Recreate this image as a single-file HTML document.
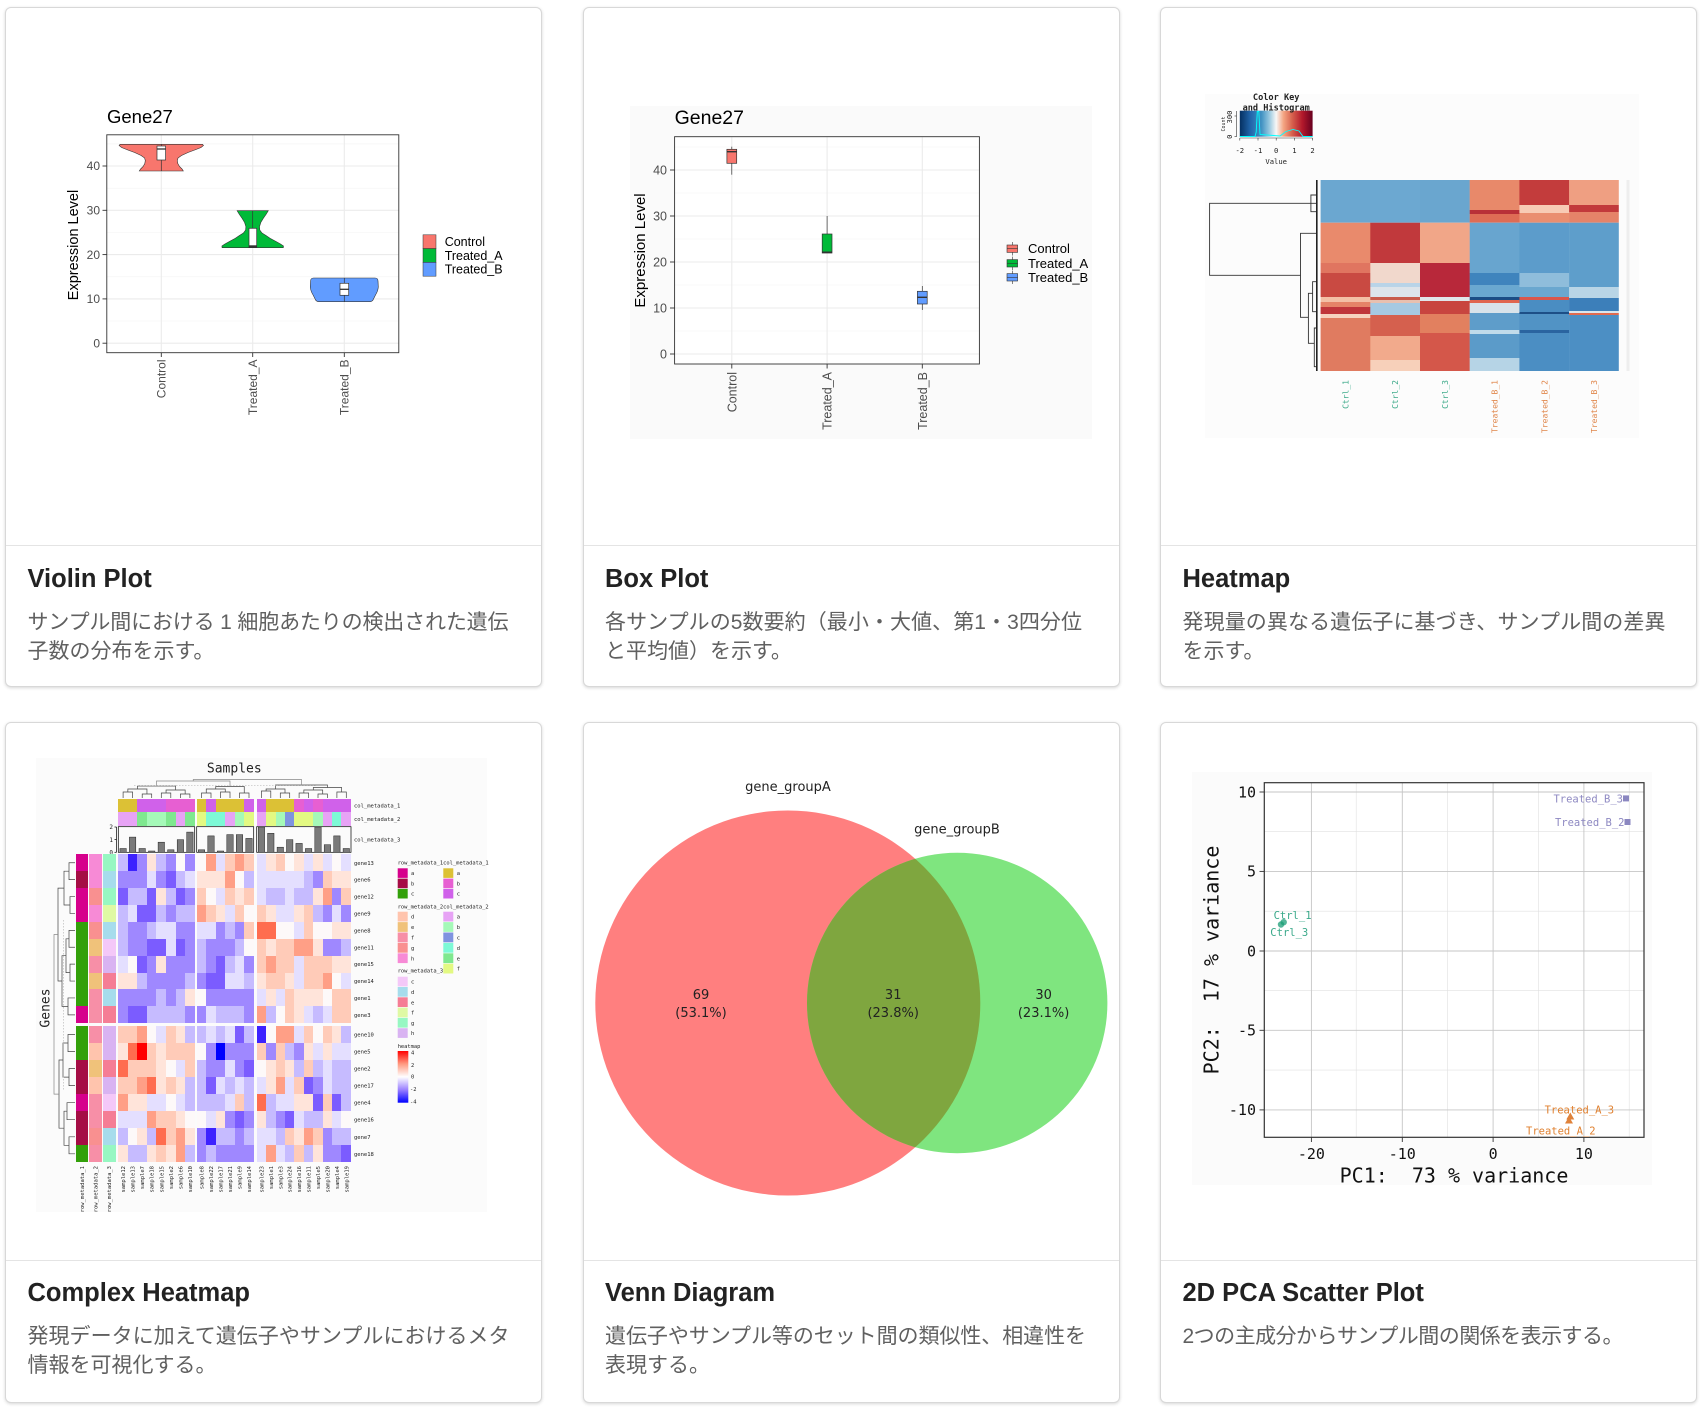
<!DOCTYPE html>
<html><head><meta charset="utf-8">
<style>
html,body{margin:0;padding:0;background:#fff;}
body{width:1701px;height:1424px;position:relative;overflow:hidden;}
.card{position:absolute;background:#fff;border:1px solid #d8d8d8;border-radius:6px;box-shadow:0 1px 3px rgba(0,0,0,.16);box-sizing:border-box;}
.dv{position:absolute;left:0;right:0;height:1px;background:#e4e4e4;}
svg.main{position:absolute;left:0;top:0;}
.g{position:absolute;display:grid;}
.g i{display:block;}
.Z{background:#3d22ff}.K{background:#0000ff}.A{background:#7b5cff}.B{background:#9f88ff}.C{background:#c6bbff}.D{background:#e4dfff}.W{background:#fdf9f9}.E{background:#ffe4da}.F{background:#ffcbb8}.G{background:#ff9f86}.H{background:#ff6d4f}.R{background:#ff0000}
.p{background:#d6008c}.q{background:#a50d45}.s{background:#33a00a}
.d2{background:#ffc4ad}.e2{background:#f0c27a}.f2{background:#f78fa7}.g2{background:#f99090}.h2{background:#f78ad6}
.c3{background:#f4c8f8}.d3{background:#a6dcec}.e3{background:#f57d95}.f3{background:#dff9a4}.g3{background:#97f7c2}.h3{background:#d9b3f2}
.a1{background:#dcc135}.b1{background:#e75fd2}.c1{background:#d061ea}
.a4{background:#e7a3f5}.b4{background:#a5f9b8}.c4{background:#7f93e0}.d4{background:#7df9d6}.e4{background:#7fe88f}.f4{background:#e3f982}
</style></head><body>

<div class="card" style="left:5px;top:7px;width:537px;height:680px"><div class="dv" style="top:537px"></div></div>
<div class="card" style="left:583px;top:7px;width:537px;height:680px"><div class="dv" style="top:537px"></div></div>
<div class="card" style="left:1160px;top:7px;width:537px;height:680px"><div class="dv" style="top:537px"></div></div>
<div class="card" style="left:5px;top:722px;width:537px;height:681px"><div class="dv" style="top:537px"></div></div>
<div class="card" style="left:583px;top:722px;width:537px;height:681px"><div class="dv" style="top:537px"></div></div>
<div class="card" style="left:1160px;top:722px;width:537px;height:681px"><div class="dv" style="top:537px"></div></div>

<svg class="main" width="1701" height="1424" viewBox="0 0 1701 1424" xmlns="http://www.w3.org/2000/svg">
<defs>
<linearGradient id="ck" x1="0" y1="0" x2="1" y2="0">
<stop offset="0" stop-color="#053061"/><stop offset="0.15" stop-color="#2166ac"/><stop offset="0.3" stop-color="#4393c3"/><stop offset="0.4" stop-color="#92c5de"/><stop offset="0.5" stop-color="#f7f7f7"/><stop offset="0.6" stop-color="#f4a582"/><stop offset="0.72" stop-color="#d6604d"/><stop offset="0.86" stop-color="#b2182b"/><stop offset="1" stop-color="#67001f"/>
</linearGradient>
<linearGradient id="hm" x1="0" y1="0" x2="0" y2="1">
<stop offset="0" stop-color="#ff0000"/><stop offset="0.25" stop-color="#ff9a80"/><stop offset="0.5" stop-color="#ffffff"/><stop offset="0.75" stop-color="#9a80ff"/><stop offset="1" stop-color="#0000ff"/>
</linearGradient>
<clipPath id="clipA"><circle cx="787.8" cy="1003" r="192.5"/></clipPath>
</defs>

<!-- Card titles & descriptions -->
<g font-family="'Liberation Sans',sans-serif" font-weight="bold" font-size="25.5" fill="#222">
<text x="27.5" y="587">Violin Plot</text>
<text x="605" y="587">Box Plot</text>
<text x="1182.5" y="587">Heatmap</text>
<text x="27.5" y="1301">Complex Heatmap</text>
<text x="605" y="1301">Venn Diagram</text>
<text x="1182.5" y="1301">2D PCA Scatter Plot</text>
</g>
<g font-family="'Liberation Sans','Noto Sans CJK JP',sans-serif" font-size="21" fill="#606060">
<text x="27.5" y="629" textLength="481" lengthAdjust="spacing">サンプル間における 1 細胞あたりの検出された遺伝</text>
<text x="27.5" y="658">子数の分布を示す。</text>
<text x="605" y="629" textLength="477" lengthAdjust="spacing">各サンプルの5数要約（最小・大値、第1・3四分位</text>
<text x="605" y="658">と平均値）を示す。</text>
<text x="1182.5" y="629" textLength="483" lengthAdjust="spacing">発現量の異なる遺伝子に基づき、サンプル間の差異</text>
<text x="1182.5" y="658">を示す。</text>
<text x="27.5" y="1343" textLength="482" lengthAdjust="spacing">発現データに加えて遺伝子やサンプルにおけるメタ</text>
<text x="27.5" y="1372">情報を可視化する。</text>
<text x="605" y="1343" textLength="481" lengthAdjust="spacing">遺伝子やサンプル等のセット間の類似性、相違性を</text>
<text x="605" y="1372">表現する。</text>
<text x="1182.5" y="1343" textLength="441" lengthAdjust="spacing">2つの主成分からサンプル間の関係を表示する。</text>
</g>

<!-- ============ VIOLIN PLOT ============ -->
<g font-family="'Liberation Sans',sans-serif">
<rect x="106.8" y="134.8" width="292" height="217.9" fill="#fff"/>
<g stroke="#f3f3f3" stroke-width="0.6">
<line x1="106.8" x2="398.8" y1="321" y2="321"/><line x1="106.8" x2="398.8" y1="276.8" y2="276.8"/><line x1="106.8" x2="398.8" y1="232.5" y2="232.5"/><line x1="106.8" x2="398.8" y1="188.2" y2="188.2"/><line x1="106.8" x2="398.8" y1="143.9" y2="143.9"/>
</g>
<g stroke="#ebebeb" stroke-width="1.1">
<line x1="106.8" x2="398.8" y1="343.2" y2="343.2"/><line x1="106.8" x2="398.8" y1="298.9" y2="298.9"/><line x1="106.8" x2="398.8" y1="254.6" y2="254.6"/><line x1="106.8" x2="398.8" y1="210.3" y2="210.3"/><line x1="106.8" x2="398.8" y1="166" y2="166"/>
<line x1="161.3" x2="161.3" y1="134.8" y2="352.7"/><line x1="252.7" x2="252.7" y1="134.8" y2="352.7"/><line x1="344.3" x2="344.3" y1="134.8" y2="352.7"/>
</g>
<!-- violins -->
<polygon fill="#F8766D" stroke="#333" stroke-width="0.6" points="202.5,144.3 203.5,145.5 201,147.5 196,149.5 188,152.5 181.5,155.5 178,158 177.3,160.5 177.8,163.5 179.5,166.5 182,169 183.3,171 139.3,171 140.6,169 143.1,166.5 144.8,163.5 145.3,160.5 144.6,158 141.1,155.5 134.6,152.5 126.6,149.5 121.6,147.5 119.1,145.5 120.1,144.3"/>
<polygon fill="#00BA38" stroke="#333" stroke-width="0.6" points="268.3,210.7 266,214.5 263.3,218.3 260.8,222.5 259.5,226.7 259.8,230 262,233 266,235.5 270,238.3 276,241.5 280.5,244 283.5,246 283.3,247.7 222.1,247.7 221.9,246 224.9,244 229.4,241.5 235.4,238.3 239.4,235.5 243.4,233 245.6,230 245.9,226.7 244.6,222.5 242.1,218.3 239.4,214.5 237.1,210.7"/>
<path fill="#619CFF" stroke="#333" stroke-width="0.6" d="M375,278 Q378,278 378,281 L378.3,287 Q378,291 375.5,295 L373.5,299 Q372.5,301.7 369.5,301.7 L319.1,301.7 Q316.1,301.7 315.1,299 L313.1,295 Q310.6,291 310.3,287 L310.6,281 Q310.6,278 313.6,278 Z"/>
<!-- inner boxes -->
<g stroke="#333" stroke-width="0.7">
<line x1="161.3" x2="161.3" y1="144.3" y2="171"/>
<rect x="157" y="146" width="8.6" height="14" fill="#fff"/>
<line x1="157" x2="165.6" y1="149" y2="149" stroke-width="1.3"/>
<line x1="252.7" x2="252.7" y1="210.7" y2="247.7"/>
<rect x="249" y="228.3" width="7.7" height="19" fill="#fff"/>
<line x1="249" x2="256.7" y1="246.3" y2="246.3" stroke-width="2"/>
<line x1="344.3" x2="344.3" y1="278" y2="301.7"/>
<rect x="340" y="283.3" width="8.7" height="12" fill="#fff"/>
<line x1="340" x2="348.7" y1="289.3" y2="289.3" stroke-width="1.3"/>
</g>
<rect x="106.8" y="134.8" width="292" height="217.9" fill="none" stroke="#333" stroke-width="0.9"/>
<g stroke="#333" stroke-width="0.9">
<line x1="102.5" x2="106.8" y1="343.2" y2="343.2"/><line x1="102.5" x2="106.8" y1="298.9" y2="298.9"/><line x1="102.5" x2="106.8" y1="254.6" y2="254.6"/><line x1="102.5" x2="106.8" y1="210.3" y2="210.3"/><line x1="102.5" x2="106.8" y1="166" y2="166"/>
<line x1="161.3" x2="161.3" y1="352.7" y2="357"/><line x1="252.7" x2="252.7" y1="352.7" y2="357"/><line x1="344.3" x2="344.3" y1="352.7" y2="357"/>
</g>
<g font-size="12" fill="#4d4d4d" text-anchor="end">
<text x="100" y="347.4">0</text><text x="100" y="303.1">10</text><text x="100" y="258.8">20</text><text x="100" y="214.5">30</text><text x="100" y="170.2">40</text>
<text transform="translate(165.5,359.5) rotate(-90)">Control</text>
<text transform="translate(256.9,359.5) rotate(-90)">Treated_A</text>
<text transform="translate(348.5,359.5) rotate(-90)">Treated_B</text>
</g>
<text transform="translate(78,245) rotate(-90)" font-size="14.5" text-anchor="middle" fill="#000">Expression Level</text>
<text x="107" y="123" font-size="18.5" fill="#000">Gene27</text>
<rect x="423" y="234.8" width="13" height="13.8" fill="#F8766D" stroke="#333" stroke-width="0.5"/>
<rect x="423" y="248.6" width="13" height="13.8" fill="#00BA38" stroke="#333" stroke-width="0.5"/>
<rect x="423" y="262.4" width="13" height="13.8" fill="#619CFF" stroke="#333" stroke-width="0.5"/>
<g font-size="12.5" fill="#000">
<text x="444.7" y="246">Control</text><text x="444.7" y="259.8">Treated_A</text><text x="444.7" y="273.6">Treated_B</text>
</g>
</g>

<!-- ============ BOX PLOT ============ -->
<g font-family="'Liberation Sans',sans-serif">
<rect x="630" y="106" width="462" height="333" fill="#fafafa"/>
<rect x="674.6" y="136.7" width="304.8" height="227.3" fill="#fff"/>
<g stroke="#f3f3f3" stroke-width="0.6">
<line x1="674.6" x2="979.4" y1="331" y2="331"/><line x1="674.6" x2="979.4" y1="285" y2="285"/><line x1="674.6" x2="979.4" y1="239" y2="239"/><line x1="674.6" x2="979.4" y1="193" y2="193"/><line x1="674.6" x2="979.4" y1="147" y2="147"/>
</g>
<g stroke="#ebebeb" stroke-width="1.1">
<line x1="674.6" x2="979.4" y1="354" y2="354"/><line x1="674.6" x2="979.4" y1="308" y2="308"/><line x1="674.6" x2="979.4" y1="262" y2="262"/><line x1="674.6" x2="979.4" y1="216" y2="216"/><line x1="674.6" x2="979.4" y1="170" y2="170"/>
<line x1="731.8" x2="731.8" y1="136.7" y2="364"/><line x1="827.1" x2="827.1" y1="136.7" y2="364"/><line x1="922.3" x2="922.3" y1="136.7" y2="364"/>
</g>
<g stroke="#333" stroke-width="0.7">
<line x1="731.8" x2="731.8" y1="146.7" y2="174.7"/>
<rect x="726.9" y="149.3" width="9.8" height="14" fill="#F8766D"/>
<line x1="726.9" x2="736.7" y1="151.7" y2="151.7" stroke-width="1.4"/>
<line x1="827.1" x2="827.1" y1="216" y2="253"/>
<rect x="822.2" y="234" width="9.8" height="19" fill="#00BA38"/>
<line x1="822.2" x2="832" y1="252.3" y2="252.3" stroke-width="1.6"/>
<line x1="922.3" x2="922.3" y1="286" y2="310"/>
<rect x="917.4" y="291.3" width="9.8" height="12.7" fill="#619CFF"/>
<line x1="917.4" x2="927.2" y1="297.3" y2="297.3" stroke-width="1.4"/>
</g>
<rect x="674.6" y="136.7" width="304.8" height="227.3" fill="none" stroke="#333" stroke-width="0.9"/>
<g stroke="#333" stroke-width="0.9">
<line x1="670" x2="674.6" y1="354" y2="354"/><line x1="670" x2="674.6" y1="308" y2="308"/><line x1="670" x2="674.6" y1="262" y2="262"/><line x1="670" x2="674.6" y1="216" y2="216"/><line x1="670" x2="674.6" y1="170" y2="170"/>
<line x1="731.8" x2="731.8" y1="364" y2="368.5"/><line x1="827.1" x2="827.1" y1="364" y2="368.5"/><line x1="922.3" x2="922.3" y1="364" y2="368.5"/>
</g>
<g font-size="12.5" fill="#4d4d4d" text-anchor="end">
<text x="667" y="358.4">0</text><text x="667" y="312.4">10</text><text x="667" y="266.4">20</text><text x="667" y="220.4">30</text><text x="667" y="174.4">40</text>
<text transform="translate(736.3,372) rotate(-90)">Control</text>
<text transform="translate(831.6,372) rotate(-90)">Treated_A</text>
<text transform="translate(926.8,372) rotate(-90)">Treated_B</text>
</g>
<text transform="translate(645,250.5) rotate(-90)" font-size="15" text-anchor="middle" fill="#000">Expression Level</text>
<text x="674.6" y="124" font-size="19.5" fill="#000">Gene27</text>
<g stroke="#333" stroke-width="0.6">
<line x1="1012.3" x2="1012.3" y1="242" y2="255.5"/><rect x="1007" y="245" width="10.6" height="7.4" fill="#F8766D"/><line x1="1007" x2="1017.6" y1="248.7" y2="248.7"/>
<line x1="1012.3" x2="1012.3" y1="256.6" y2="270"/><rect x="1007" y="259.6" width="10.6" height="7.4" fill="#00BA38"/><line x1="1007" x2="1017.6" y1="263.3" y2="263.3"/>
<line x1="1012.3" x2="1012.3" y1="270.6" y2="284"/><rect x="1007" y="273.6" width="10.6" height="7.4" fill="#619CFF"/><line x1="1007" x2="1017.6" y1="277.3" y2="277.3"/>
</g>
<g font-size="13" fill="#000">
<text x="1028" y="253.2">Control</text><text x="1028" y="267.8">Treated_A</text><text x="1028" y="281.8">Treated_B</text>
</g>
</g>

<!-- ============ HEATMAP ============ -->
<rect x="1205" y="94" width="434" height="344" fill="#fcfcfc"/>
<g>
<g transform="translate(1320.6,0)">
<rect y="180" width="49.9" height="42.7" fill="#6ba7d0"/><rect y="222.7" width="49.9" height="40.3" fill="#e98a6c"/><rect y="263" width="49.9" height="10" fill="#e07560"/><rect y="273" width="49.9" height="24" fill="#c94a42"/><rect y="297" width="49.9" height="5" fill="#f3c0a6"/><rect y="302" width="49.9" height="5" fill="#e58468"/><rect y="307" width="49.9" height="7" fill="#c0363b"/><rect y="314" width="49.9" height="4" fill="#f7d3c0"/><rect y="318" width="49.9" height="53" fill="#e07b60"/>
</g>
<g transform="translate(1370.3,0)">
<rect y="180" width="49.9" height="42.7" fill="#6ca8d1"/><rect y="222.7" width="49.9" height="40.3" fill="#c1393c"/><rect y="263" width="49.9" height="20" fill="#f1d8cc"/><rect y="283" width="49.9" height="4" fill="#b9d4e8"/><rect y="287" width="49.9" height="10" fill="#dde4ea"/><rect y="297" width="49.9" height="3" fill="#c85a4a"/><rect y="300" width="49.9" height="3" fill="#e8c0b0"/><rect y="303" width="49.9" height="12" fill="#a6c9e2"/><rect y="315" width="49.9" height="21" fill="#d5604e"/><rect y="336" width="49.9" height="24" fill="#f2aa8c"/><rect y="360" width="49.9" height="11" fill="#f7d0ba"/>
</g>
<g transform="translate(1420,0)">
<rect y="180" width="49.9" height="42.7" fill="#6aa6cf"/><rect y="222.7" width="49.9" height="40.3" fill="#f1a688"/><rect y="263" width="49.9" height="34" fill="#b8283a"/><rect y="297" width="49.9" height="4" fill="#e0e6ea"/><rect y="301" width="49.9" height="13" fill="#c8453f"/><rect y="314" width="49.9" height="19" fill="#e2805f"/><rect y="333" width="49.9" height="38" fill="#d4574a"/>
</g>
<g transform="translate(1469.7,0)">
<rect y="180" width="49.9" height="30" fill="#e8896a"/><rect y="210" width="49.9" height="4" fill="#b83038"/><rect y="214" width="49.9" height="8.7" fill="#de6c55"/><rect y="222.7" width="49.9" height="50.3" fill="#68a5cf"/><rect y="273" width="49.9" height="12" fill="#3f84bd"/><rect y="285" width="49.9" height="12" fill="#6aa8d0"/><rect y="297" width="49.9" height="3" fill="#1b4d85"/><rect y="300" width="49.9" height="3" fill="#e0664f"/><rect y="303" width="49.9" height="10" fill="#d8e3ea"/><rect y="313" width="49.9" height="17" fill="#5e9dca"/><rect y="330" width="49.9" height="4" fill="#c0dbea"/><rect y="334" width="49.9" height="24" fill="#5b9bc9"/><rect y="358" width="49.9" height="13" fill="#b6d4e6"/>
</g>
<g transform="translate(1519.4,0)">
<rect y="180" width="49.9" height="25" fill="#c33c3c"/><rect y="205" width="49.9" height="8" fill="#f8cbb5"/><rect y="213" width="49.9" height="9.7" fill="#ea8e70"/><rect y="222.7" width="49.9" height="50.3" fill="#5c9ccb"/><rect y="273" width="49.9" height="14" fill="#8fbddb"/><rect y="287" width="49.9" height="10" fill="#6aa7cf"/><rect y="297" width="49.9" height="3" fill="#d9564a"/><rect y="300" width="49.9" height="12" fill="#4a8dc2"/><rect y="312" width="49.9" height="2" fill="#1d4f87"/><rect y="314" width="49.9" height="16" fill="#5193c5"/><rect y="330" width="49.9" height="3" fill="#2a64a0"/><rect y="333" width="49.9" height="38" fill="#4b8ec3"/>
</g>
<g transform="translate(1569.1,0)">
<rect y="180" width="49.7" height="25" fill="#ef9f82"/><rect y="205" width="49.7" height="7" fill="#c2393b"/><rect y="212" width="49.7" height="10.7" fill="#e58369"/><rect y="222.7" width="49.7" height="64.3" fill="#5e9ecb"/><rect y="287" width="49.7" height="11" fill="#b9d5e6"/><rect y="298" width="49.7" height="13" fill="#3c7fba"/><rect y="311" width="49.7" height="2" fill="#d9e6ee"/><rect y="313" width="49.7" height="2" fill="#e06a50"/><rect y="315" width="49.7" height="56" fill="#4c8fc4"/>
</g>
</g>
<line x1="1628" x2="1628" y1="180" y2="371" stroke="#eeeeee" stroke-width="3"/>
<g fill="none" stroke="#333" stroke-width="0.9">
<path d="M1316,203.3H1209.6V275.3H1300.5"/>
<path d="M1316,195H1310.9V211.7H1316"/>
<path d="M1316,233.3H1300.5V317.3H1308.4"/>
<path d="M1312.6,293.3H1308.4V343.3H1314.3"/>
<path d="M1316,281.7H1312.6V311.7H1316"/>
<path d="M1316,328H1314.3V366.7H1316"/>
</g>
<line x1="1316.8" x2="1316.8" y1="180" y2="371" stroke="#222" stroke-width="1.6"/>
<!-- color key -->
<rect x="1239.8" y="110.7" width="72.8" height="26" fill="url(#ck)"/>
<polyline fill="none" stroke="#00ffff" stroke-width="0.9" points="1239.8,136.5 1255,136.5 1256.2,132 1257.3,111.5 1258.8,111.5 1260,134.5 1280,136 1286,131.5 1293,129.5 1299,131 1303,136.5 1312.6,136.5"/>
<g stroke="#333" stroke-width="0.6">
<line x1="1236.5" x2="1236.5" y1="111" y2="136.7"/><line x1="1234.5" x2="1236.5" y1="136.7" y2="136.7"/><line x1="1234.5" x2="1236.5" y1="116" y2="116"/>
<line x1="1239.8" x2="1312.6" y1="138" y2="138"/>
<line x1="1239.8" x2="1239.8" y1="138" y2="140.5"/><line x1="1258" x2="1258" y1="138" y2="140.5"/><line x1="1276.2" x2="1276.2" y1="138" y2="140.5"/><line x1="1294.4" x2="1294.4" y1="138" y2="140.5"/><line x1="1312.6" x2="1312.6" y1="138" y2="140.5"/>
</g>
<g font-family="'DejaVu Sans Mono',monospace" fill="#222">
<text x="1276.2" y="100" font-size="8.6" font-weight="bold" text-anchor="middle">Color Key</text>
<text x="1276.2" y="110.5" font-size="8.6" font-weight="bold" text-anchor="middle">and Histogram</text>
<g font-size="7.2" text-anchor="middle">
<text x="1239.8" y="153">-2</text><text x="1258" y="153">-1</text><text x="1276.2" y="153">0</text><text x="1294.4" y="153">1</text><text x="1312.6" y="153">2</text>
<text x="1276.2" y="164">Value</text>
<text transform="translate(1232,136.7) rotate(-90)">0</text>
<text transform="translate(1232,117) rotate(-90)">300</text>
</g>
<text transform="translate(1225,124) rotate(-90)" font-size="5" text-anchor="middle">Count</text>
<g font-size="8" text-anchor="end">
<text transform="translate(1348.5,380) rotate(-90)" fill="#3fab8b">Ctrl_1</text>
<text transform="translate(1398.2,380) rotate(-90)" fill="#3fab8b">Ctrl_2</text>
<text transform="translate(1447.9,380) rotate(-90)" fill="#3fab8b">Ctrl_3</text>
<text transform="translate(1497.6,380) rotate(-90)" fill="#e0864a">Treated_B_1</text>
<text transform="translate(1547.3,380) rotate(-90)" fill="#e0864a">Treated_B_2</text>
<text transform="translate(1597,380) rotate(-90)" fill="#e0864a">Treated_B_3</text>
</g>
</g>

<!-- ============ COMPLEX HEATMAP ============ -->
<rect x="36" y="758" width="451" height="454" fill="#fbfbfb"/>
<g font-family="'DejaVu Sans Mono',monospace" fill="#222">
<text x="234.3" y="772.5" font-size="13" text-anchor="middle">Samples</text>
<text transform="translate(49.5,1008) rotate(-90)" font-size="13" text-anchor="middle">Genes</text>
</g>
<g fill="none" stroke="#444" stroke-width="0.7">
<path d="M123.1,798V792H132.6V798"/><path d="M142.2,798V794H151.7V798"/><path d="M161.3,798V793H170.8V798"/><path d="M180.4,798V794H189.9V798"/>
<path d="M127.85,792V789H146.95V794"/><path d="M166.05,793V790H185.15V794"/><path d="M137.4,789V786H175.6V790"/>
<path d="M201.5,798V793H211V798"/><path d="M220.5,798V792H230V798"/><path d="M239.5,798V793H249V798"/>
<path d="M206.25,793V789H225.25V792"/><path d="M215.75,789V786.5H244.25V793"/>
<path d="M261.4,798V791H270.8V798"/><path d="M280.3,798V793H289.7V798"/><path d="M299.1,798V793H308.6V798"/><path d="M318,798V794H327.4V798"/><path d="M336.9,798V792H346.3V798"/>
<path d="M266.1,791V789H285V793"/><path d="M303.85,793V790H322.7V794"/><path d="M313.3,790V787.5H341.6V792"/><path d="M275.55,789V785H327.45V787.5"/>
<path d="M75,862.75H69V879.65H75"/><path d="M75,896.55H70V913.45H75"/><path d="M69,871.2H64V905H70"/>
<path d="M75,930.35H69V947.25H75"/><path d="M75,964.15H70V981.05H75"/><path d="M69,938.8H66V972.6H70"/>
<path d="M75,997.95H68V1014.85H75"/><path d="M66,955.7H62V1006.4H68"/><path d="M64,888.1H58V981H62"/>
<path d="M75,1034.5H68V1051.6H75"/><path d="M75,1068.6H69V1085.6H75"/><path d="M68,1043H63V1077.1H69"/>
<path d="M75,1102.7H67V1119.7H75"/><path d="M75,1136.8H69V1153.8H75"/><path d="M67,1111.2H64V1145.3H69"/>
<path d="M63,1060H59V1128.2H64"/>
</g>
<g fill="none" stroke="#888" stroke-width="0.7">
<path d="M156.5,786V781H230V786.5"/><path d="M193.25,781V779.5H301.5V785"/>
<path d="M58,934.5H54V1094.1H59"/>
<line x1="134" x2="317" y1="785.7" y2="785.7" stroke-dasharray="1.5,1.5" stroke="#bbb"/>
<line x1="63.5" x2="63.5" y1="920" y2="1090" stroke-dasharray="1.5,1.5" stroke="#bbb"/>
</g>
<!-- barplot annotation -->
<g stroke="#000" stroke-width="0.7" fill="none">
<rect x="118.3" y="826.7" width="76.4" height="25.6"/><rect x="196.7" y="826.7" width="57" height="25.6"/><rect x="256.7" y="826.7" width="94.3" height="25.6"/>
<line x1="116.5" x2="116.5" y1="827" y2="852.3"/><line x1="114.5" x2="116.5" y1="827" y2="827"/><line x1="114.5" x2="116.5" y1="839.65" y2="839.65"/><line x1="114.5" x2="116.5" y1="852.3" y2="852.3"/>
</g>
<g fill="#7a7a7a" stroke="#222" stroke-width="0.5">
<rect x="119.9" y="848.5" width="6.4" height="3.8"/><rect x="129.4" y="837.1" width="6.4" height="15.2"/><rect x="139" y="848.5" width="6.4" height="3.8"/><rect x="148.5" y="851" width="6.4" height="1.3"/><rect x="158.1" y="842.2" width="6.4" height="10.1"/><rect x="167.6" y="849.8" width="6.4" height="2.5"/><rect x="177.2" y="839.65" width="6.4" height="12.65"/><rect x="186.7" y="832.1" width="6.4" height="20.2"/>
<rect x="198.3" y="849.8" width="6.4" height="2.5"/><rect x="207.8" y="835.9" width="6.4" height="16.4"/><rect x="217.3" y="851" width="6.4" height="1.3"/><rect x="226.8" y="834.6" width="6.4" height="17.7"/><rect x="236.3" y="834.6" width="6.4" height="17.7"/><rect x="245.8" y="838.4" width="6.4" height="13.9"/>
<rect x="258.2" y="827" width="6.4" height="25.3"/><rect x="267.6" y="833.3" width="6.4" height="19"/><rect x="277.1" y="847.2" width="6.4" height="5.1"/><rect x="286.5" y="839.65" width="6.4" height="12.65"/><rect x="295.9" y="843.4" width="6.4" height="8.9"/><rect x="305.4" y="848.5" width="6.4" height="3.8"/><rect x="314.8" y="827" width="6.4" height="25.3"/><rect x="324.2" y="844.7" width="6.4" height="7.6"/><rect x="333.7" y="835.9" width="6.4" height="16.4"/><rect x="343.1" y="848.5" width="6.4" height="3.8"/>
</g>
<g font-family="'DejaVu Sans Mono',monospace" fill="#222" font-size="6">
<g text-anchor="end"><text x="113" y="829.2">2</text><text x="113" y="841.8">1</text><text x="113" y="854.5">0</text></g>
<g font-size="5.5">
<text x="354" y="807.5">col_metadata_1</text><text x="354" y="821">col_metadata_2</text><text x="354" y="841.5">col_metadata_3</text>
<text x="354" y="864.8">gene13</text><text x="354" y="881.7">gene6</text><text x="354" y="898.6">gene12</text><text x="354" y="915.5">gene9</text><text x="354" y="932.4">gene8</text><text x="354" y="949.3">gene11</text><text x="354" y="966.2">gene15</text><text x="354" y="983.1">gene14</text><text x="354" y="1000">gene1</text><text x="354" y="1016.9">gene3</text>
<text x="354" y="1036.5">gene10</text><text x="354" y="1053.6">gene5</text><text x="354" y="1070.6">gene2</text><text x="354" y="1087.6">gene17</text><text x="354" y="1104.7">gene4</text><text x="354" y="1121.7">gene16</text><text x="354" y="1138.8">gene7</text><text x="354" y="1155.8">gene18</text>
</g>
<g font-size="5.5" text-anchor="end">
<text transform="translate(84,1166) rotate(-90)">row_metadata_1</text><text transform="translate(97.5,1166) rotate(-90)">row_metadata_2</text><text transform="translate(111,1166) rotate(-90)">row_metadata_3</text>
<text transform="translate(125.1,1166) rotate(-90)">sample12</text><text transform="translate(134.6,1166) rotate(-90)">sample13</text><text transform="translate(144.2,1166) rotate(-90)">sample7</text><text transform="translate(153.7,1166) rotate(-90)">sample18</text><text transform="translate(163.3,1166) rotate(-90)">sample15</text><text transform="translate(172.8,1166) rotate(-90)">sample2</text><text transform="translate(182.4,1166) rotate(-90)">sample6</text><text transform="translate(191.9,1166) rotate(-90)">sample10</text>
<text transform="translate(203.5,1166) rotate(-90)">sample8</text><text transform="translate(213,1166) rotate(-90)">sample22</text><text transform="translate(222.5,1166) rotate(-90)">sample17</text><text transform="translate(232,1166) rotate(-90)">sample21</text><text transform="translate(241.5,1166) rotate(-90)">sample9</text><text transform="translate(251,1166) rotate(-90)">sample14</text>
<text transform="translate(263.4,1166) rotate(-90)">sample23</text><text transform="translate(272.8,1166) rotate(-90)">sample1</text><text transform="translate(282.3,1166) rotate(-90)">sample3</text><text transform="translate(291.7,1166) rotate(-90)">sample24</text><text transform="translate(301.1,1166) rotate(-90)">sample16</text><text transform="translate(310.6,1166) rotate(-90)">sample11</text><text transform="translate(320,1166) rotate(-90)">sample5</text><text transform="translate(329.4,1166) rotate(-90)">sample20</text><text transform="translate(338.9,1166) rotate(-90)">sample4</text><text transform="translate(348.3,1166) rotate(-90)">sample19</text>
</g>
<!-- legends -->
<g font-size="5.4">
<text x="397.7" y="864.5">row_metadata_1col_metadata_1</text>
<text x="397.7" y="908.5">row_metadata_2col_metadata_2</text>
<text x="397.7" y="972.5">row_metadata_3</text>
<text x="397.7" y="1048">heatmap</text>
<text x="411" y="875">a</text><text x="411" y="885.3">b</text><text x="411" y="895.6">c</text>
<text x="456.7" y="875">a</text><text x="456.7" y="885.3">b</text><text x="456.7" y="895.6">c</text>
<text x="411" y="918.7">d</text><text x="411" y="929.1">e</text><text x="411" y="939.5">f</text><text x="411" y="949.9">g</text><text x="411" y="960.3">h</text>
<text x="456.7" y="918.7">a</text><text x="456.7" y="929.1">b</text><text x="456.7" y="939.5">c</text><text x="456.7" y="949.9">d</text><text x="456.7" y="960.3">e</text><text x="456.7" y="970.7">f</text>
<text x="411" y="983.7">c</text><text x="411" y="994">d</text><text x="411" y="1004.3">e</text><text x="411" y="1014.6">f</text><text x="411" y="1024.9">g</text><text x="411" y="1035.2">h</text>
<text x="411" y="1054.5">4</text><text x="411" y="1067">2</text><text x="411" y="1078.5">0</text><text x="410" y="1091">-2</text><text x="410" y="1103.5">-4</text>
</g>
</g>
<g>
<rect x="397.7" y="868.3" width="10" height="9.6" fill="#d6008c"/><rect x="397.7" y="878.6" width="10" height="9.6" fill="#a50d45"/><rect x="397.7" y="888.9" width="10" height="9.6" fill="#33a00a"/>
<rect x="443.3" y="868.3" width="10" height="9.6" fill="#dcc135"/><rect x="443.3" y="878.6" width="10" height="9.6" fill="#e75fd2"/><rect x="443.3" y="888.9" width="10" height="9.6" fill="#d061ea"/>
<rect x="397.7" y="911.7" width="10" height="9.8" fill="#ffc4ad"/><rect x="397.7" y="922.1" width="10" height="9.8" fill="#f0c27a"/><rect x="397.7" y="932.5" width="10" height="9.8" fill="#f78fa7"/><rect x="397.7" y="942.9" width="10" height="9.8" fill="#f99090"/><rect x="397.7" y="953.3" width="10" height="9.8" fill="#f78ad6"/>
<rect x="443.3" y="911.7" width="10" height="9.8" fill="#e7a3f5"/><rect x="443.3" y="922.1" width="10" height="9.8" fill="#a5f9b8"/><rect x="443.3" y="932.5" width="10" height="9.8" fill="#7f93e0"/><rect x="443.3" y="942.9" width="10" height="9.8" fill="#7df9d6"/><rect x="443.3" y="953.3" width="10" height="9.8" fill="#7fe88f"/><rect x="443.3" y="963.7" width="10" height="9.8" fill="#e3f982"/>
<rect x="397.7" y="976.7" width="10" height="9.7" fill="#f4c8f8"/><rect x="397.7" y="987" width="10" height="9.7" fill="#a6dcec"/><rect x="397.7" y="997.3" width="10" height="9.7" fill="#f57d95"/><rect x="397.7" y="1007.6" width="10" height="9.7" fill="#dff9a4"/><rect x="397.7" y="1017.9" width="10" height="9.7" fill="#97f7c2"/><rect x="397.7" y="1028.2" width="10" height="9.7" fill="#d9b3f2"/>
<rect x="397.7" y="1051" width="10.6" height="51.7" fill="url(#hm)"/>
</g>

<!-- ============ VENN ============ -->
<circle cx="787.8" cy="1003" r="192.5" fill="#ff7f7f"/>
<circle cx="957.2" cy="1003" r="150.2" fill="#7fe57f"/>
<circle cx="957.2" cy="1003" r="150.2" fill="#7fa63f" clip-path="url(#clipA)"/>
<g font-family="'DejaVu Sans',sans-serif" font-size="13" fill="#222" text-anchor="middle">
<text x="788" y="791">gene_groupA</text>
<text x="957" y="833.5">gene_groupB</text>
<text x="701" y="998.8">69</text><text x="701" y="1017">(53.1%)</text>
<text x="893.2" y="998.8">31</text><text x="893.2" y="1017">(23.8%)</text>
<text x="1043.6" y="998.8">30</text><text x="1043.6" y="1017">(23.1%)</text>
</g>

<!-- ============ PCA ============ -->
<rect x="1192" y="772" width="460" height="413" fill="#fbfbfb"/>
<rect x="1264.3" y="782.7" width="379.7" height="354.6" fill="#fff"/>
<g stroke="#e0e0e0" stroke-width="0.6">
<line x1="1264.3" x2="1644" y1="831.7" y2="831.7"/><line x1="1264.3" x2="1644" y1="911.2" y2="911.2"/><line x1="1264.3" x2="1644" y1="990.7" y2="990.7"/><line x1="1264.3" x2="1644" y1="1070.1" y2="1070.1"/>
<line x1="1356.2" x2="1356.2" y1="782.7" y2="1137.3"/><line x1="1447.6" x2="1447.6" y1="782.7" y2="1137.3"/><line x1="1538.5" x2="1538.5" y1="782.7" y2="1137.3"/><line x1="1629.2" x2="1629.2" y1="782.7" y2="1137.3"/>
</g>
<g stroke="#c6c6c6" stroke-width="0.9">
<line x1="1264.3" x2="1644" y1="792" y2="792"/><line x1="1264.3" x2="1644" y1="871.4" y2="871.4"/><line x1="1264.3" x2="1644" y1="951" y2="951"/><line x1="1264.3" x2="1644" y1="1030.3" y2="1030.3"/><line x1="1264.3" x2="1644" y1="1109.9" y2="1109.9"/>
<line x1="1311.4" x2="1311.4" y1="782.7" y2="1137.3"/><line x1="1402.3" x2="1402.3" y1="782.7" y2="1137.3"/><line x1="1493.1" x2="1493.1" y1="782.7" y2="1137.3"/><line x1="1583.9" x2="1583.9" y1="782.7" y2="1137.3"/>
</g>
<rect x="1264.3" y="782.7" width="379.7" height="354.6" fill="none" stroke="#333" stroke-width="1.2"/>
<g stroke="#333" stroke-width="0.9">
<line x1="1259.5" x2="1264.3" y1="792" y2="792"/><line x1="1259.5" x2="1264.3" y1="871.4" y2="871.4"/><line x1="1259.5" x2="1264.3" y1="951" y2="951"/><line x1="1259.5" x2="1264.3" y1="1030.3" y2="1030.3"/><line x1="1259.5" x2="1264.3" y1="1109.9" y2="1109.9"/>
<line x1="1311.4" x2="1311.4" y1="1137.3" y2="1142"/><line x1="1402.3" x2="1402.3" y1="1137.3" y2="1142"/><line x1="1493.1" x2="1493.1" y1="1137.3" y2="1142"/><line x1="1583.9" x2="1583.9" y1="1137.3" y2="1142"/>
</g>
<g font-family="'DejaVu Sans Mono',monospace" fill="#111">
<g font-size="15" text-anchor="end">
<text x="1256" y="797.3">10</text><text x="1256" y="876.7">5</text><text x="1256" y="956.3">0</text><text x="1256" y="1035.6">-5</text><text x="1256" y="1115.2">-10</text>
</g>
<g font-size="15" text-anchor="middle">
<text x="1311.4" y="1159">-20</text><text x="1402.3" y="1159">-10</text><text x="1493.1" y="1159">0</text><text x="1583.9" y="1159">10</text>
</g>
<text x="1454" y="1182.5" font-size="20" text-anchor="middle" xml:space="preserve" style="white-space:pre">PC1:  73 % variance</text>
<text transform="translate(1218.7,960) rotate(-90)" font-size="20" text-anchor="middle" xml:space="preserve" style="white-space:pre">PC2:  17 % variance</text>
<g font-size="10.5">
<text x="1273.6" y="918.8" fill="#3aa98a">Ctrl_1</text>
<text x="1270.3" y="936" fill="#3aa98a">Ctrl_3</text>
<text x="1623" y="802.5" fill="#8e89c2" text-anchor="end">Treated_B_3</text>
<text x="1624.5" y="826.2" fill="#8e89c2" text-anchor="end">Treated_B_2</text>
<text x="1544.6" y="1113.5" fill="#e0802f">Treated_A_3</text>
<text x="1526" y="1134.6" fill="#e0802f">Treated_A_2</text>
</g>
</g>
<circle cx="1283.7" cy="922.2" r="3.2" fill="#1b9e77" fill-opacity="0.75"/>
<circle cx="1281" cy="924.5" r="3.2" fill="#1b9e77" fill-opacity="0.75"/>
<rect x="1623" y="795.4" width="6" height="6" fill="#8b87c0"/>
<rect x="1624.5" y="819" width="6" height="6" fill="#8b87c0"/>
<polygon points="1570.3,1112.5 1574.3,1119.5 1566.3,1119.5" fill="#e0823a"/>
<polygon points="1569,1116.5 1573,1123.5 1565,1123.5" fill="#e0823a"/>
</svg>

<!-- complex heatmap matrix -->
<div class="g" style="left:118.3px;top:854.3px;grid-template-columns:repeat(8,9.55px);grid-template-rows:repeat(10,16.9px)">
<i class=C></i><i class=Z></i><i class=B></i><i class=E></i><i class=C></i><i class=B></i><i class=W></i><i class=B></i>
<i class=B></i><i class=B></i><i class=B></i><i class=D></i><i class=B></i><i class=A></i><i class=C></i><i class=D></i>
<i class=A></i><i class=C></i><i class=C></i><i class=A></i><i class=E></i><i class=C></i><i class=A></i><i class=B></i>
<i class=C></i><i class=D></i><i class=A></i><i class=A></i><i class=C></i><i class=B></i><i class=C></i><i class=C></i>
<i class=C></i><i class=B></i><i class=B></i><i class=C></i><i class=D></i><i class=D></i><i class=B></i><i class=B></i>
<i class=C></i><i class=B></i><i class=B></i><i class=A></i><i class=A></i><i class=D></i><i class=A></i><i class=B></i>
<i class=D></i><i class=W></i><i class=A></i><i class=B></i><i class=E></i><i class=B></i><i class=B></i><i class=B></i>
<i class=E></i><i class=E></i><i class=C></i><i class=B></i><i class=B></i><i class=B></i><i class=B></i><i class=C></i>
<i class=B></i><i class=B></i><i class=B></i><i class=B></i><i class=C></i><i class=B></i><i class=C></i><i class=E></i>
<i class=B></i><i class=A></i><i class=A></i><i class=C></i><i class=C></i><i class=C></i><i class=C></i><i class=B></i>
</div>
<div class="g" style="left:196.7px;top:854.3px;grid-template-columns:repeat(6,9.5px);grid-template-rows:repeat(10,16.9px)">
<i class=W></i><i class=G></i><i class=D></i><i class=F></i><i class=G></i><i class=F></i>
<i class=E></i><i class=E></i><i class=E></i><i class=G></i><i class=W></i><i class=C></i>
<i class=F></i><i class=W></i><i class=D></i><i class=F></i><i class=E></i><i class=F></i>
<i class=G></i><i class=F></i><i class=E></i><i class=D></i><i class=F></i><i class=W></i>
<i class=D></i><i class=D></i><i class=B></i><i class=C></i><i class=B></i><i class=F></i>
<i class=C></i><i class=B></i><i class=B></i><i class=B></i><i class=C></i><i class=W></i>
<i class=C></i><i class=B></i><i class=A></i><i class=C></i><i class=D></i><i class=B></i>
<i class=B></i><i class=A></i><i class=A></i><i class=D></i><i class=D></i><i class=C></i>
<i class=W></i><i class=B></i><i class=B></i><i class=B></i><i class=B></i><i class=B></i>
<i class=B></i><i class=D></i><i class=C></i><i class=C></i><i class=C></i><i class=B></i>
</div>
<div class="g" style="left:256.7px;top:854.3px;grid-template-columns:repeat(10,9.43px);grid-template-rows:repeat(10,16.9px)">
<i class=D></i><i class=E></i><i class=F></i><i class=W></i><i class=E></i><i class=D></i><i class=E></i><i class=D></i><i class=W></i><i class=D></i>
<i class=D></i><i class=D></i><i class=D></i><i class=D></i><i class=D></i><i class=C></i><i class=B></i><i class=F></i><i class=E></i><i class=E></i>
<i class=D></i><i class=C></i><i class=C></i><i class=D></i><i class=C></i><i class=C></i><i class=E></i><i class=G></i><i class=B></i><i class=F></i>
<i class=F></i><i class=E></i><i class=D></i><i class=D></i><i class=E></i><i class=F></i><i class=C></i><i class=B></i><i class=D></i><i class=B></i>
<i class=H></i><i class=H></i><i class=W></i><i class=W></i><i class=D></i><i class=F></i><i class=W></i><i class=W></i><i class=E></i><i class=E></i>
<i class=F></i><i class=E></i><i class=F></i><i class=F></i><i class=G></i><i class=G></i><i class=E></i><i class=B></i><i class=B></i><i class=C></i>
<i class=F></i><i class=G></i><i class=F></i><i class=F></i><i class=D></i><i class=F></i><i class=F></i><i class=F></i><i class=E></i><i class=E></i>
<i class=E></i><i class=F></i><i class=F></i><i class=E></i><i class=D></i><i class=F></i><i class=F></i><i class=G></i><i class=W></i><i class=D></i>
<i class=D></i><i class=E></i><i class=D></i><i class=F></i><i class=E></i><i class=E></i><i class=E></i><i class=W></i><i class=F></i><i class=F></i>
<i class=G></i><i class=C></i><i class=W></i><i class=F></i><i class=E></i><i class=D></i><i class=C></i><i class=D></i><i class=F></i><i class=F></i>
</div>
<div class="g" style="left:118.3px;top:1026px;grid-template-columns:repeat(8,9.55px);grid-template-rows:repeat(8,17.04px)">
<i class=F></i><i class=F></i><i class=G></i><i class=W></i><i class=D></i><i class=F></i><i class=E></i><i class=C></i>
<i class=E></i><i class=H></i><i class=R></i><i class=F></i><i class=E></i><i class=F></i><i class=F></i><i class=F></i>
<i class=H></i><i class=F></i><i class=F></i><i class=F></i><i class=E></i><i class=W></i><i class=D></i><i class=F></i>
<i class=F></i><i class=F></i><i class=G></i><i class=H></i><i class=E></i><i class=F></i><i class=E></i><i class=C></i>
<i class=G></i><i class=E></i><i class=E></i><i class=D></i><i class=D></i><i class=W></i><i class=D></i><i class=C></i>
<i class=D></i><i class=D></i><i class=D></i><i class=G></i><i class=F></i><i class=F></i><i class=E></i><i class=W></i>
<i class=C></i><i class=W></i><i class=E></i><i class=C></i><i class=H></i><i class=F></i><i class=G></i><i class=E></i>
<i class=E></i><i class=C></i><i class=C></i><i class=E></i><i class=F></i><i class=E></i><i class=G></i><i class=C></i>
</div>
<div class="g" style="left:196.7px;top:1026px;grid-template-columns:repeat(6,9.5px);grid-template-rows:repeat(8,17.04px)">
<i class=C></i><i class=D></i><i class=C></i><i class=D></i><i class=A></i><i class=C></i>
<i class=W></i><i class=B></i><i class=K></i><i class=B></i><i class=B></i><i class=B></i>
<i class=C></i><i class=B></i><i class=B></i><i class=D></i><i class=B></i><i class=A></i>
<i class=C></i><i class=A></i><i class=D></i><i class=C></i><i class=D></i><i class=C></i>
<i class=C></i><i class=C></i><i class=C></i><i class=D></i><i class=F></i><i class=C></i>
<i class=W></i><i class=D></i><i class=E></i><i class=B></i><i class=A></i><i class=B></i>
<i class=B></i><i class=Z></i><i class=C></i><i class=C></i><i class=B></i><i class=C></i>
<i class=B></i><i class=C></i><i class=B></i><i class=B></i><i class=B></i><i class=B></i>
</div>
<div class="g" style="left:256.7px;top:1026px;grid-template-columns:repeat(10,9.43px);grid-template-rows:repeat(8,17.04px)">
<i class=Z></i><i class=W></i><i class=G></i><i class=G></i><i class=D></i><i class=F></i><i class=W></i><i class=F></i><i class=E></i><i class=C></i>
<i class=F></i><i class=B></i><i class=F></i><i class=C></i><i class=B></i><i class=E></i><i class=D></i><i class=E></i><i class=D></i><i class=D></i>
<i class=W></i><i class=E></i><i class=F></i><i class=E></i><i class=C></i><i class=F></i><i class=C></i><i class=D></i><i class=C></i><i class=C></i>
<i class=D></i><i class=E></i><i class=G></i><i class=D></i><i class=F></i><i class=A></i><i class=B></i><i class=D></i><i class=C></i><i class=C></i>
<i class=H></i><i class=C></i><i class=D></i><i class=D></i><i class=E></i><i class=E></i><i class=A></i><i class=F></i><i class=A></i><i class=C></i>
<i class=E></i><i class=C></i><i class=B></i><i class=A></i><i class=D></i><i class=C></i><i class=C></i><i class=E></i><i class=D></i><i class=W></i>
<i class=D></i><i class=D></i><i class=C></i><i class=F></i><i class=E></i><i class=G></i><i class=F></i><i class=B></i><i class=C></i><i class=C></i>
<i class=D></i><i class=G></i><i class=D></i><i class=C></i><i class=F></i><i class=C></i><i class=E></i><i class=B></i><i class=B></i><i class=A></i>
</div>
<!-- row annotations -->
<div class="g" style="left:75.7px;top:854.3px;grid-template-columns:12.6px 12.4px 13px;column-gap:1px;grid-template-rows:repeat(10,16.9px)">
<i class=p></i><i class=h2></i><i class=g3></i>
<i class=q></i><i class=h2></i><i class=d3></i>
<i class=p></i><i class=g2></i><i class=g3></i>
<i class=p></i><i class=h2></i><i class=f3></i>
<i class=s></i><i class=g2></i><i class=d3></i>
<i class=s></i><i class=e2></i><i class=c3></i>
<i class=s></i><i class=f2></i><i class=h3></i>
<i class=s></i><i class=e2></i><i class=e3></i>
<i class=s></i><i class=f2></i><i class=d3></i>
<i class=p></i><i class=f2></i><i class=e3></i>
</div>
<div class="g" style="left:75.7px;top:1026px;grid-template-columns:12.6px 12.4px 13px;column-gap:1px;grid-template-rows:repeat(8,17.04px)">
<i class=s></i><i class=f2></i><i class=h3></i>
<i class=s></i><i class=d2></i><i class=h3></i>
<i class=q></i><i class=e2></i><i class=e3></i>
<i class=q></i><i class=d2></i><i class=h3></i>
<i class=p></i><i class=f2></i><i class=c3></i>
<i class=q></i><i class=f2></i><i class=e3></i>
<i class=q></i><i class=g2></i><i class=d3></i>
<i class=s></i><i class=f2></i><i class=g3></i>
</div>
<!-- column annotations -->
<div class="g" style="left:118.3px;top:799px;grid-template-columns:repeat(8,9.55px);grid-template-rows:12.7px 13.4px;row-gap:0.6px">
<i class=a1></i><i class=a1></i><i class=c1></i><i class=c1></i><i class=c1></i><i class=b1></i><i class=b1></i><i class=b1></i>
<i class=a4></i><i class=a4></i><i class=e4></i><i class=b4></i><i class=b4></i><i class=e4></i><i class=a4></i><i class=e4></i>
</div>
<div class="g" style="left:196.7px;top:799px;grid-template-columns:repeat(6,9.5px);grid-template-rows:12.7px 13.4px;row-gap:0.6px">
<i class=a1></i><i class=c1></i><i class=a1></i><i class=a1></i><i class=a1></i><i class=c1></i>
<i class=f4></i><i class=d4></i><i class=d4></i><i class=a4></i><i class=b4></i><i class=f4></i>
</div>
<div class="g" style="left:256.7px;top:799px;grid-template-columns:repeat(10,9.43px);grid-template-rows:12.7px 13.4px;row-gap:0.6px">
<i class=c1></i><i class=a1></i><i class=a1></i><i class=a1></i><i class=b1></i><i class=c1></i><i class=b1></i><i class=c1></i><i class=c1></i><i class=c1></i>
<i class=a4></i><i class=f4></i><i class=b4></i><i class=c4></i><i class=f4></i><i class=f4></i><i class=b4></i><i class=a4></i><i class=d4></i><i class=a4></i>
</div>
</body></html>
